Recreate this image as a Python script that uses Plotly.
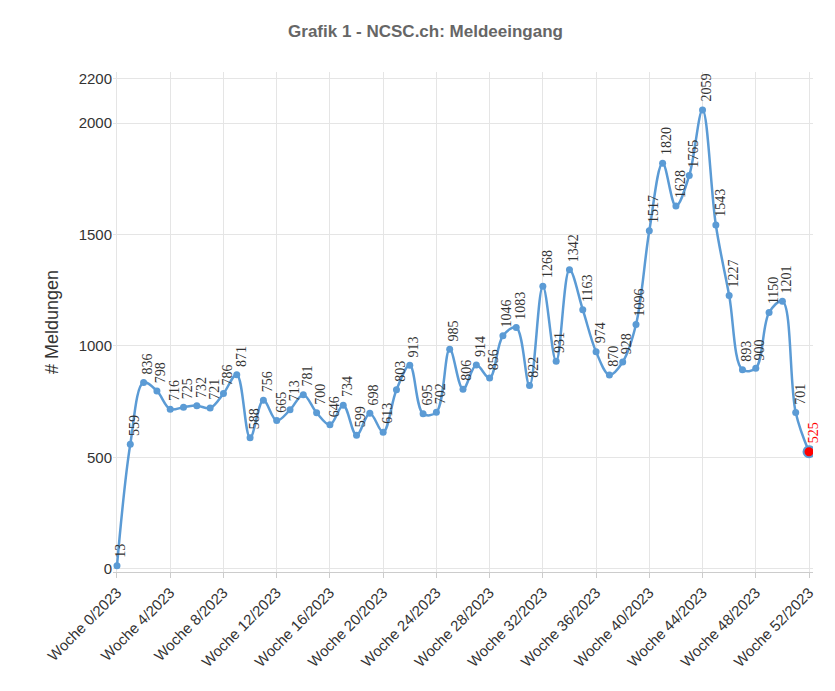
import plotly.graph_objects as go

# Meldeeingang pro Woche 2023
werte = [13, 559, 836, 798, 716, 725, 732, 721, 786, 871, 588, 756, 665, 713, 781, 700,
         646, 734, 599, 698, 613, 803, 913, 695, 702, 985, 806, 914, 856, 1046, 1083, 822,
         1268, 931, 1342, 1163, 974, 870, 928, 1096, 1517, 1820, 1628, 1765, 2059, 1543,
         1227, 893, 900, 1150, 1201, 701, 525]
wochen = ["Woche %d/2023" % i for i in range(len(werte))]

fig = go.Figure()
fig.add_trace(go.Scatter(x=wochen, y=werte, mode='lines+markers', line_shape='spline',
                         line=dict(color='#5b9bd5', width=2.5),
                         marker=dict(color='#5b9bd5', size=7)))
# letzter Punkt rot
fig.add_trace(go.Scatter(x=[wochen[-1]], y=[werte[-1]], mode='markers',
                         marker=dict(color='red', size=11, line=dict(color='#5b9bd5', width=2))))

for i, v in enumerate(werte):
    fig.add_annotation(x=wochen[i], y=v, text=str(v), textangle=-90, showarrow=False,
                       xanchor='center', yanchor='bottom', yshift=6, xshift=4,
                       font=dict(size=14, color='red' if i == len(werte) - 1 else '#333',
                                 family='Liberation Serif'))

fig.update_layout(
    width=835, height=691, showlegend=False,
    plot_bgcolor='white', paper_bgcolor='white',
    title=dict(text='<b>Grafik 1 - NCSC.ch: Meldeeingang</b>', x=0.5, y=0.975,
               font=dict(size=17, color='#666')),
    margin=dict(l=105, r=30, t=64, b=127),
    font=dict(family='Liberation Sans', size=15, color='#333'),
)
fig.update_xaxes(tickangle=-45, tickvals=wochen[::4], showgrid=True, gridcolor='#e5e5e5',
                 range=[-0.3, 52.3], showline=True, linecolor='#ccc', ticks='outside',
                 tickcolor='#ccc')
fig.update_yaxes(title='# Meldungen', range=[-15, 2230], tickvals=[0, 500, 1000, 1500, 2000, 2200],
                 showgrid=True, gridcolor='#e5e5e5', zeroline=False)
fig.write_html("out.html")
